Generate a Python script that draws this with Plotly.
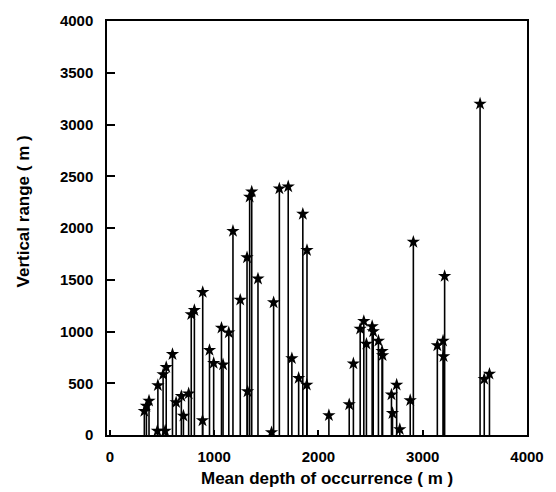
import plotly.graph_objects as go

# Mean depth of occurrence (m) and vertical range (m) for each species
mean_depth = [330, 350, 375, 455, 460, 510, 530, 540, 600, 635, 685, 705, 755, 780, 810,
              890, 888, 955, 995, 1070, 1085, 1140, 1180, 1250, 1315, 1320, 1340, 1360, 1420,
              1550, 1570, 1625, 1710, 1745, 1810, 1850, 1890, 1888, 2100, 2295, 2335, 2400,
              2435, 2460, 2515, 2525, 2575, 2610, 2615, 2700, 2710, 2750, 2780, 2880, 2910,
              3140, 3195, 3200, 3210, 3550, 3590, 3640]
vertical_range = [230, 280, 330, 40, 480, 585, 40, 655, 780, 315, 375, 185, 400, 1165, 1205,
                  1380, 140, 820, 695, 1035, 680, 990, 1970, 1305, 1715, 420, 2300, 2350, 1510,
                  25, 1280, 2380, 2400, 740, 550, 2135, 1785, 485, 190, 295, 690, 1025,
                  1100, 880, 1050, 1000, 910, 810, 770, 390, 210, 485, 55, 335, 1865,
                  865, 910, 760, 1535, 3200, 540, 590]

x_ticks = [0, 1000, 2000, 3000, 4000]
y_ticks = [0, 500, 1000, 1500, 2000, 2500, 3000, 3500, 4000]

x_title = "Mean depth of occurrence ( m )"
y_title = "Vertical range ( m )"

# stems from 0 up to each value
stem_x, stem_y = [], []
for xv, yv in zip(mean_depth, vertical_range):
    stem_x += [xv, xv, None]
    stem_y += [0, yv, None]

fig = go.Figure()
fig.add_trace(go.Scatter(x=stem_x, y=stem_y, mode="lines",
                         line=dict(color="black", width=1.6), hoverinfo="skip",
                         showlegend=False))
fig.add_trace(go.Scatter(x=mean_depth, y=vertical_range, mode="markers",
                         marker=dict(symbol="star", size=10, color="black",
                                     line=dict(width=0)),
                         showlegend=False))

font_fam = "Liberation Sans, Arial, sans-serif"
fig.update_layout(
    width=556, height=492,
    margin=dict(l=107, r=19, t=15, b=57),
    paper_bgcolor="white", plot_bgcolor="white",
    font=dict(family=font_fam, color="black"),
    xaxis=dict(range=[-28, 4000], tickvals=x_ticks,
               ticktext=[f"<b>{v}</b>" for v in x_ticks],
               tickfont=dict(size=15), ticks="inside", ticklen=5, tickwidth=1.5,
               tickcolor="black", ticklabelstandoff=7,
               showline=True, linecolor="black", linewidth=1.5, mirror=True,
               showgrid=False, zeroline=False),
    yaxis=dict(range=[0, 4000], tickvals=y_ticks,
               ticktext=[f"<b>{v}</b>" for v in y_ticks],
               tickfont=dict(size=15), ticks="inside", ticklen=8, tickwidth=1.5,
               tickcolor="black", ticklabelstandoff=9,
               showline=True, linecolor="black", linewidth=1.5, mirror=True,
               showgrid=False, zeroline=False),
    annotations=[
        dict(text=f"<b>{x_title}</b>", xref="paper", yref="paper",
             x=0.523, y=-0.105, xanchor="center", yanchor="middle",
             showarrow=False, font=dict(size=17)),
        dict(text=f"<b>{y_title}</b>", xref="paper", yref="paper",
             x=-0.2, y=0.54, xanchor="center", yanchor="middle", textangle=-90,
             showarrow=False, font=dict(size=17)),
    ],
)

fig.write_html("out.html")
